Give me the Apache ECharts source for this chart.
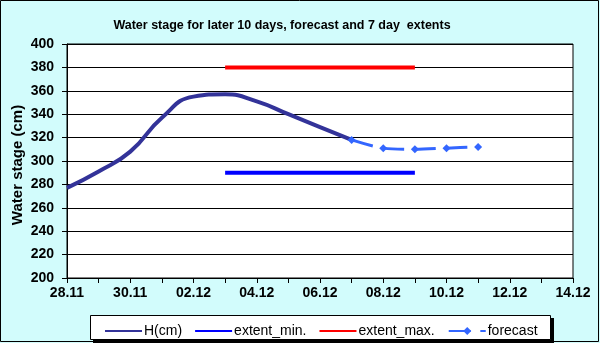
<!DOCTYPE html>
<html><head><meta charset="utf-8">
<script src="https://cdn.jsdelivr.net/npm/echarts@6/dist/echarts.min.js"></script>
<style>html,body{margin:0;padding:0;background:#D2FCFC;}#c{width:600px;height:343px;}</style>
</head><body><div id="c"></div>
<script>
const categories = ["28.11","29.11","30.11","01.12","02.12","03.12","04.12","05.12","06.12","07.12","08.12","09.12","10.12","11.12","12.12","13.12","14.12"];
const hValues = [277, 291, 308, 337, 355, 357, 351, 340, 329, 318, null, null, null, null, null, null, null];
const extentMin = [null, null, null, null, null, 290, 290, 290, 290, 290, 290, 290, null, null, null, null, null];
const extentMax = [null, null, null, null, null, 380, 380, 380, 380, 380, 380, 380, null, null, null, null, null];
const forecast = [null, null, null, null, null, null, null, null, null, 318, 311, 310, 311, 312, null, null, null];
const yTicks = {min: 200, max: 400, interval: 20};

const chart = echarts.init(document.getElementById('c'), null, {renderer: 'canvas'});
const font = 'Arial, "Liberation Sans", sans-serif';
chart.setOption({
  backgroundColor: '#D2FCFC',
  animation: false,
  title: {
    text: 'Water stage for later 10 days, forecast and 7 day  extents',
    left: 277, top: 14, textAlign: 'center',
    textStyle: {fontFamily: font, fontSize: 12.5, fontWeight: 'bold', color: '#000'}
  },
  grid: {left: 67, right: 27, top: 44, bottom: 65, show: true, backgroundColor: '#fff', borderColor: '#000', borderWidth: 1},
  graphic: [
    {type: 'rect', shape: {x: 0.5, y: 0.5, width: 598, height: 341}, style: {fill: 'none', stroke: '#000', lineWidth: 1}, silent: true, z: 100},
    {type: 'rect', shape: {x: 93, y: 318, width: 461, height: 25}, style: {fill: '#000'}, silent: true, z: -1},
    {type: 'rect', shape: {x: 90.5, y: 315.5, width: 460, height: 24}, style: {fill: '#fff', stroke: '#000', lineWidth: 1}, silent: true, z: 0},
    {type: 'text', x: 18, y: 165, rotation: Math.PI / 2,
     style: {text: 'Water stage (cm)', font: 'bold 15px Arial, "Liberation Sans", sans-serif', fill: '#000', textAlign: 'center', textVerticalAlign: 'middle'}, silent: true}
  ],
  legend: {
    left: 100, top: 319, itemGap: 13, itemWidth: 37, itemHeight: 10,
    textStyle: {fontFamily: font, fontSize: 14, color: '#000', padding: [0, 0, 0, -3]},
    data: [
      {name: 'H(cm)', icon: 'path://M0,4L40,4L40,6L0,6Z'},
      {name: 'extent_min.', icon: 'path://M0,4L40,4L40,6L0,6Z'},
      {name: 'extent_max.', icon: 'path://M0,4L40,4L40,6L0,6Z'},
      {name: 'forecast'}
    ]
  },
  xAxis: {
    type: 'category', data: categories, boundaryGap: false,
    axisLine: {lineStyle: {color: '#000', width: 1}},
    axisTick: {show: true, interval: 0, length: 5, lineStyle: {color: '#000'}},
    axisLabel: {interval: 1, fontFamily: font, fontSize: 14, fontWeight: 'bold', color: '#000', margin: 8},
    splitLine: {show: false}
  },
  yAxis: {
    type: 'value', min: yTicks.min, max: yTicks.max, interval: yTicks.interval,
    axisLine: {show: true, lineStyle: {color: '#000'}},
    axisTick: {show: true, length: 5, lineStyle: {color: '#000'}},
    axisLabel: {fontFamily: font, fontSize: 14, fontWeight: 'bold', color: '#000', margin: 13},
    splitLine: {show: true, lineStyle: {color: '#000', width: 1}}
  },
  series: [
    {name: 'H(cm)', type: 'line', data: hValues, smooth: 0.5, showSymbol: false, symbol: 'none',
     lineStyle: {color: '#333399', width: 4}, itemStyle: {color: '#333399'}, z: 3},
    {name: 'extent_min.', type: 'line', data: extentMin, showSymbol: false, symbol: 'none',
     lineStyle: {color: '#0000FF', width: 4}, itemStyle: {color: '#0000FF'}, z: 2},
    {name: 'extent_max.', type: 'line', data: extentMax, showSymbol: false, symbol: 'none',
     lineStyle: {color: '#FF0000', width: 4}, itemStyle: {color: '#FF0000'}, z: 2},
    {name: 'forecast', type: 'line', data: forecast, smooth: 0.3, symbol: 'diamond', symbolSize: 8, showSymbol: true,
     lineStyle: {color: '#3366FF', width: 3, type: [22, 9.6]}, itemStyle: {color: '#3366FF'}, z: 4}
  ]
});
</script></body></html>
